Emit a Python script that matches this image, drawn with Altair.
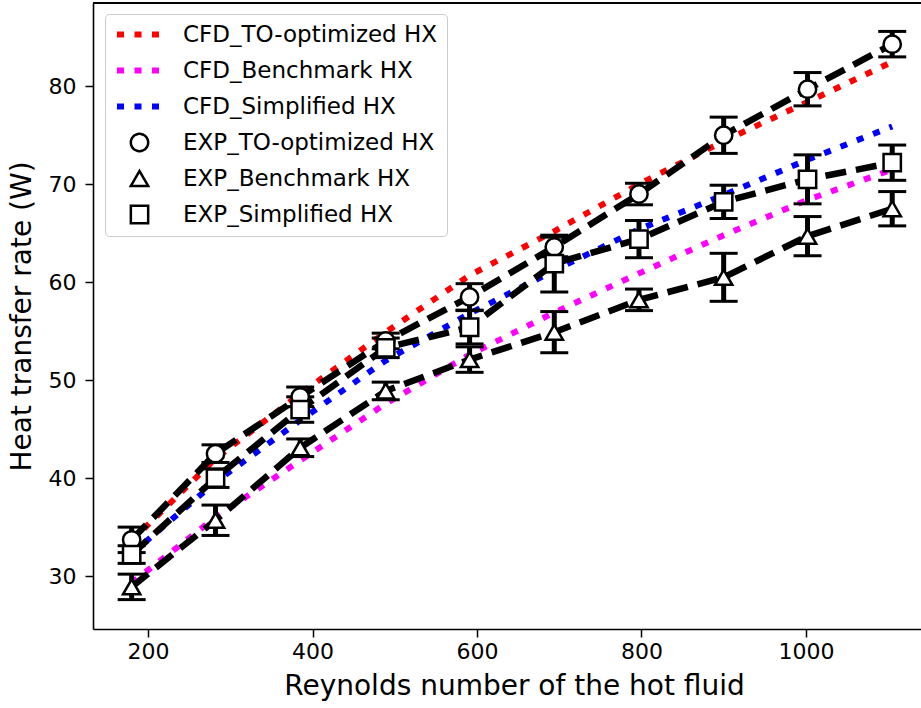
import altair as alt
import pandas as pd

# Reynolds number of the hot fluid
re_hot = [180, 282, 385, 489, 591, 694, 797, 900, 1002, 1105]

# CFD heat transfer rate (W)
cfd_to = [33.6, 42.0, 48.6, 54.9, 60.7, 65.2, 70.0, 74.4, 78.4, 82.5]
cfd_bench = [29.3, 36.0, 41.8, 47.6, 52.6, 56.9, 60.9, 64.8, 68.4, 71.5]
cfd_simp = [32.3, 39.6, 45.9, 52.0, 56.8, 61.2, 65.4, 68.9, 72.5, 75.9]

# Experimental heat transfer rate (W) and error
exp_to = [33.7, 42.5, 48.3, 54.0, 58.5, 63.6, 69.0, 75.0, 79.7, 84.3]
exp_to_err = [1.3, 0.9, 1.0, 0.8, 1.35, 1.0, 1.1, 1.85, 1.7, 1.3]
exp_bench = [28.9, 35.7, 43.1, 48.9, 52.1, 54.9, 58.2, 60.5, 64.7, 67.5]
exp_bench_err = [1.3, 1.55, 0.9, 0.9, 1.3, 2.1, 1.1, 2.45, 2.0, 1.75]
exp_simp = [32.2, 40.0, 47.0, 53.3, 55.4, 61.9, 64.4, 68.2, 70.5, 72.2]
exp_simp_err = [0.9, 0.95, 1.3, 1.0, 1.7, 2.9, 1.9, 1.7, 2.5, 1.8]

series_names = [
    "CFD_TO-optimized HX",
    "CFD_Benchmark HX",
    "CFD_Simplified HX",
    "EXP_TO-optimized HX",
    "EXP_Benchmark HX",
    "EXP_Simplified HX",
]
series_colors = ["#ff0000", "#ff00ff", "#0000ff", "#000000", "#000000", "#000000"]
series_shapes = ["stroke", "stroke", "stroke", "circle", "triangle-up", "square"]
series_sizes = [2025, 2025, 2025, 300, 300, 300]
series_dashes = [[7, 10.5], [7, 10.5], [7, 10.5], [1, 0], [1, 0], [1, 0]]
series_widths = [6, 6, 6, 2.5, 2.5, 2.5]

FONT = "DejaVu Sans"

rows = []
for name, vals in zip(series_names[:3], [cfd_to, cfd_bench, cfd_simp]):
    for r, v in zip(re_hot, vals):
        rows.append({"series": name, "kind": "CFD", "re": r, "q": v, "lo": v, "hi": v})
for name, vals, errs in zip(series_names[3:], [exp_to, exp_bench, exp_simp],
                            [exp_to_err, exp_bench_err, exp_simp_err]):
    for r, v, e in zip(re_hot, vals, errs):
        rows.append({"series": name, "kind": "EXP", "re": r, "q": v, "lo": v - e, "hi": v + e})
df = pd.DataFrame(rows)

xscale = alt.Scale(domain=[133, 1140], nice=False, zero=False)
yscale = alt.Scale(domain=[24.6, 88.5], nice=False, zero=False)

xaxis = alt.Axis(values=[200, 400, 600, 800, 1000], format="d",
                 title="Reynolds number of the hot fluid",
                 titleX=421, titlePadding=10, labelPadding=4)
yaxis = alt.Axis(values=[30, 40, 50, 60, 70, 80], format="d", title="Heat transfer rate (W)",
                 titlePadding=12, labelPadding=9)

legend = alt.Legend(
    title=None, orient="none", legendX=12, legendY=11,
    padding=9, rowPadding=12, labelOffset=18, clipHeight=23,
    strokeColor="#cccccc", cornerRadius=4, fillColor="rgba(255,255,255,0.8)",
    labelFont=FONT, labelFontSize=23, labelColor="black", labelLimit=400,
    symbolOpacity=1, symbolFillColor="white",
)

color_enc = alt.Color("series:N", scale=alt.Scale(domain=series_names, range=series_colors), legend=legend)
shape_enc = alt.Shape("series:N", scale=alt.Scale(domain=series_names, range=series_shapes), legend=legend)
size_enc = alt.Size("series:N", scale=alt.Scale(type="ordinal", domain=series_names, range=series_sizes),
                    legend=legend)
dash_enc = alt.StrokeDash("series:N", scale=alt.Scale(domain=series_names, range=series_dashes),
                          legend=legend)
width_enc = alt.StrokeWidth("series:N",
                            scale=alt.Scale(type="ordinal", domain=series_names, range=series_widths),
                            legend=legend)

base = alt.Chart(df)
exp = base.transform_filter("datum.kind === 'EXP'")
X = alt.X("re:Q", scale=xscale, axis=xaxis)
Y = alt.Y("q:Q", scale=yscale, axis=yaxis)
Ylo = alt.Y("lo:Q", scale=yscale, axis=yaxis)
Yhi = alt.Y("hi:Q", scale=yscale, axis=yaxis)

cfd_lines = base.transform_filter("datum.kind === 'CFD'").mark_line().encode(
    x=X, y=Y, color=color_enc, strokeDash=dash_enc, strokeWidth=width_enc)

exp_lines = exp.mark_line(strokeWidth=6.5, strokeDash=[21, 10]).encode(
    x=X, y=Y, color=color_enc)

err_rules = exp.mark_rule(color="black", strokeWidth=5).encode(x=X, y=Ylo, y2="hi:Q")

cap_lo = exp.mark_tick(color="black", orient="horizontal", size=28, thickness=3,
                       opacity=1).encode(x=X, y=Ylo)
cap_hi = exp.mark_tick(color="black", orient="horizontal", size=28, thickness=3,
                       opacity=1).encode(x=X, y=Yhi)

points = exp.mark_point(filled=True, fill="white", stroke="black", strokeWidth=2.5,
                        opacity=1).encode(x=X, y=Y, shape=shape_enc, size=size_enc)

top_frame = alt.Chart(df).mark_rule(color="black", strokeWidth=1.6).encode(
    x=alt.value(0), x2=alt.value("width"), y=alt.value(0))

chart = alt.layer(cfd_lines, exp_lines, err_rules, cap_lo, cap_hi, points, top_frame).properties(
    width=828, height=626,
    padding={"left": 93, "top": 3, "right": 0, "bottom": 79},
    autosize=alt.AutoSizeParams(type="none"),
    background="white",
).configure_view(stroke="transparent", strokeWidth=0).configure_axis(
    labelFont=FONT, labelFontSize=22, labelColor="black",
    titleFont=FONT, titleFontSize=28, titleFontWeight="normal", titleColor="black",
    tickSize=8, tickWidth=1.5, tickColor="black",
    domainColor="black", domainWidth=1.6, grid=False,
)

chart.save("out.html", embed_options={"renderer": "svg", "actions": False})
